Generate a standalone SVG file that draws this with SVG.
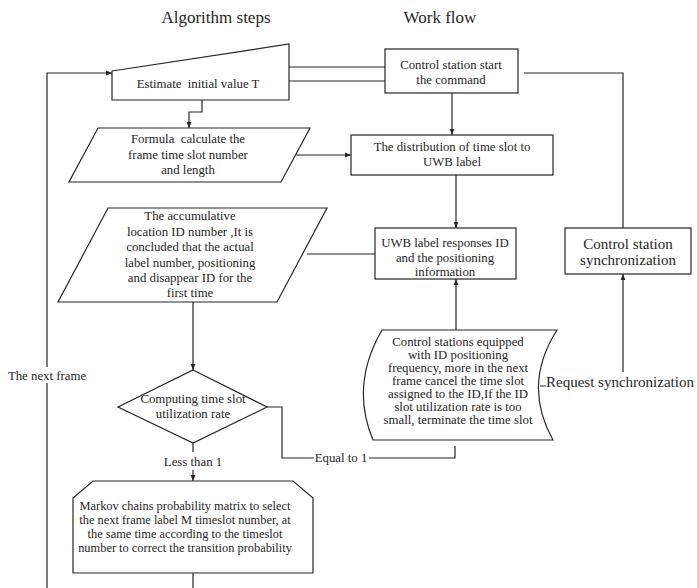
<svg xmlns="http://www.w3.org/2000/svg" width="697" height="588" viewBox="0 0 697 588">
  <style>
    .shape { fill: #ffffff; stroke: #262626; stroke-width: 1.2; }
    .wire { fill: none; stroke: #262626; stroke-width: 1.2; }
    .arrow { marker-end: url(#head); }
    text { font-family: "Liberation Serif", "Times New Roman", serif; fill: #262626; text-anchor: middle; white-space: pre; }
    .title { font-size: 17px; }
    .lbl { font-size: 12.8px; }
    .small { font-size: 12.4px; }
    .big { font-size: 15px; }
  </style>
  <defs>
    <marker id="head" viewBox="0 0 10 10" refX="10" refY="5" markerWidth="6" markerHeight="6" orient="auto" markerUnits="userSpaceOnUse">
      <path d="M0,1 L10,5 L0,9 Z" fill="#262626"/>
    </marker>
  </defs>

  <rect width="697" height="588" fill="#ffffff"/>

  <!-- column headings -->
  <text class="title" x="216" y="23">Algorithm steps</text>
  <text class="title" x="440" y="23">Work flow</text>

  <!-- connectors -->
  <g id="connectors">
    <!-- loop back to the start for the next frame -->
    <polyline class="wire" points="47,588 47,383"/>
    <polyline class="wire arrow" points="47,367 47,73 112,73"/>
    <!-- estimate to control station -->
    <line class="wire" x1="289" y1="67" x2="385" y2="67"/>
    <line class="wire" x1="289" y1="81" x2="385" y2="81"/>
    <!-- estimate down to formula -->
    <polyline class="wire arrow" points="202,100 202,112 189,112 189,128"/>
    <!-- control station to distribution -->
    <line class="wire arrow" x1="452" y1="93" x2="452" y2="135"/>
    <!-- control station to synchronization -->
    <polyline class="wire" points="524,73 623,73 623,228"/>
    <!-- formula to distribution -->
    <line class="wire arrow" x1="296" y1="155" x2="351" y2="155"/>
    <!-- distribution to UWB response -->
    <line class="wire arrow" x1="456" y1="175" x2="456" y2="228"/>
    <!-- accumulative to UWB response -->
    <line class="wire" x1="307" y1="254" x2="375" y2="254"/>
    <!-- stored data up to UWB response -->
    <line class="wire arrow" x1="456" y1="330" x2="456" y2="279"/>
    <!-- request synchronization -->
    <polyline class="wire arrow" points="540,386 623,386 623,274"/>
    <!-- accumulative to decision -->
    <line class="wire arrow" x1="193" y1="302" x2="193" y2="370"/>
    <!-- less than 1 -->
    <line class="wire" x1="193" y1="443" x2="193" y2="452"/>
    <line class="wire arrow" x1="193" y1="470" x2="193" y2="481"/>
    <!-- equal to 1 -->
    <polyline class="wire" points="267,407 282,407 282,458 314,458"/>
    <polyline class="wire" points="369,458 455,458 455,446"/>
    <!-- Markov box onward -->
    <line class="wire" x1="193" y1="573" x2="193" y2="588"/>
  </g>

  <!-- connector labels -->
  <text class="lbl" x="47" y="380">The next frame</text>
  <text class="lbl" x="193" y="466">Less than 1</text>
  <text class="lbl" x="341" y="462">Equal to 1</text>
  <rect x="546" y="372" width="151" height="19" fill="#ffffff"/>
  <text class="big" x="620" y="387">Request synchronization</text>

  <g id="estimate">
    <polygon class="shape" points="112,71 289,44 289,100 112,100"/>
    <text class="lbl" x="198" y="88">Estimate  initial value T</text>
  </g>

  <g id="control-start">
    <rect class="shape" x="385" y="49" width="133" height="44"/>
    <text class="lbl" x="451" y="69">Control station start</text>
    <text class="lbl" x="451" y="84">the command</text>
  </g>

  <g id="formula">
    <polygon class="shape" points="98,128 310,128 281,182 69,182"/>
    <text class="lbl" x="188" y="143">Formula  calculate the</text>
    <text class="lbl" x="188" y="159">frame time slot number</text>
    <text class="lbl" x="188" y="174">and length</text>
  </g>

  <g id="distribution">
    <rect class="shape" x="351" y="135" width="202" height="40"/>
    <text class="lbl" x="452" y="151">The distribution of time slot to</text>
    <text class="lbl" x="452" y="166">UWB label</text>
  </g>

  <g id="accumulative">
    <polygon class="shape" points="108,208 327,208 277,302 58,302"/>
    <text class="lbl" x="190" y="220">The accumulative</text>
    <text class="lbl" x="190" y="236">location ID number ,It is</text>
    <text class="lbl" x="190" y="251">concluded that the actual</text>
    <text class="lbl" x="190" y="267">label number, positioning</text>
    <text class="lbl" x="190" y="282">and disappear ID for the</text>
    <text class="lbl" x="190" y="297">first time</text>
  </g>

  <g id="uwb-response">
    <rect class="shape" x="375" y="228" width="141" height="51"/>
    <text class="lbl" x="445" y="247">UWB label responses ID</text>
    <text class="lbl" x="445" y="262">and the positioning</text>
    <text class="lbl" x="445" y="276">information</text>
  </g>

  <g id="synchronization">
    <rect class="shape" x="565" y="228" width="126" height="46"/>
    <text class="big" x="628" y="249">Control station</text>
    <text class="big" x="628" y="265">synchronization</text>
  </g>

  <g id="frequency-control">
    <path class="shape" d="M382,330 L557,330 Q522,385 553,440 L373,440 Q350,385 382,330 Z"/>
    <text class="lbl" x="458" y="346">Control stations equipped</text>
    <text class="lbl" x="458" y="359">with ID positioning</text>
    <text class="lbl" x="458" y="372">frequency, more in the next</text>
    <text class="lbl" x="458" y="385">frame cancel the time slot</text>
    <text class="lbl" x="458" y="398">assigned to the ID,If the ID</text>
    <text class="lbl" x="458" y="411">slot utilization rate is too</text>
    <text class="lbl" x="458" y="424">small, terminate the time slot</text>
  </g>

  <g id="utilization">
    <polygon class="shape" points="193,370 267,407 193,443 118,407"/>
    <text class="lbl" x="193" y="403">Computing time slot</text>
    <text class="lbl" x="193" y="418">utilization rate</text>
  </g>

  <g id="markov">
    <polygon class="shape" points="93,481 293,481 313,498 313,573 73,573 73,498"/>
    <text class="small" x="185" y="510">Markov chains probability matrix to select</text>
    <text class="small" x="185" y="524">the next frame label M timeslot number, at</text>
    <text class="small" x="185" y="538">the same time according to the timeslot</text>
    <text class="small" x="185" y="552">number to correct the transition probability</text>
  </g>
</svg>
